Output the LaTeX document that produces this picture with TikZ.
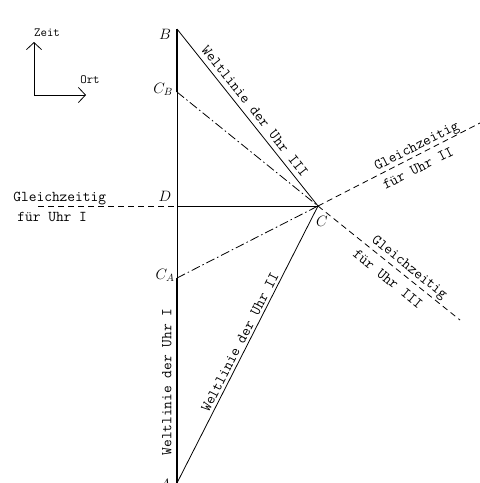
\documentclass[tikz,border=0pt]{standalone}
\usepackage{fix-cm}
\usepackage{fontspec}
\setmonofont{Latin Modern Mono}
\usetikzlibrary{arrows.meta}
\begin{document}
\begin{tikzpicture}[x=1pt,y=-1pt,line width=0.8pt,
  thickline/.style={line width=2.6pt},
  simul/.style={dash pattern=on 6pt off 4pt},
  dashdot/.style={dash pattern=on 9pt off 3pt on 1.5pt off 3pt},
  lbl/.style={font=\fontsize{15}{18}\selectfont\ttfamily,inner sep=0pt},
  small/.style={font=\fontsize{12.5}{15}\selectfont\ttfamily,inner sep=0pt},
  pt/.style={font=\fontsize{15}{18}\selectfont,inner sep=0pt},
  axisarrow/.style={-{Straight Barb[length=7pt,width=15pt]}}]
\useasboundingbox (0,0) rectangle (480,483);
% points
\coordinate (A) at (177,483);
\coordinate (CA) at (177,278);
\coordinate (D) at (177,206);
\coordinate (CB) at (177,92);
\coordinate (B) at (177,29);
\coordinate (C) at (318,206);
\coordinate (L) at (38,206);
\coordinate (E2) at (480,123);
\coordinate (E3) at (460,320);
% axes
\coordinate (O) at (34,95);
\coordinate (T) at (34,42);
\coordinate (X) at (86,95);
\draw[axisarrow] (O) -- (T);
\draw[axisarrow] (O) -- (X);
\node[small] (zeit) at (47,33) {Zeit};
\node[small] (ort) at (90,80) {Ort};
% world line I
\draw (A) -- (B);
\draw[thickline] (B) -- (CB);
\draw[thickline] (CA) -- (A);
% world lines II and III
\draw (B) -- (C);
\draw (A) -- (C);
% simultaneity
\draw (D) -- (C);
\draw[simul] (L) -- (D);
\draw[dashdot] (CB) -- (C);
\draw[dashdot] (CA) -- (C);
\draw[simul] (C) -- (E2);
\draw[simul] (C) -- (E3);
% point labels
\node[pt] (lB) at (165,34) {$B$};
\node[pt] (lCB) at (163,89) {$C_B$};
\node[pt] (lD) at (165,196) {$D$};
\node[pt] (lCA) at (165,275) {$C_A$};
\node[pt] (lA) at (165,484) {$A$};
\node[pt] (lC) at (322,221) {$C$};
% texts
\node[lbl,rotate=-51.5] (w3) at (255,111) {Weltlinie der Uhr III};
\node[lbl,rotate=62.9] (w2) at (240,342) {Weltlinie der Uhr II};
\node[lbl,rotate=90] (w1) at (167,382) {Weltlinie der Uhr I};
\node[lbl,anchor=base west] (g1a) at (13,201) {Gleichzeitig};
\node[lbl,anchor=base west] (g1b) at (17,221) {für Uhr I};
\node[lbl,rotate=26.9] (g2a) at (417,147) {Gleichzeitig};
\node[lbl,rotate=26.9] (g2b) at (418,168) {für Uhr II};
\node[lbl,rotate=-38.9] (g3a) at (409,268) {Gleichzeitig};
\node[lbl,rotate=-38.9] (g3b) at (388,279) {für Uhr III};
\end{tikzpicture}
\end{document}
